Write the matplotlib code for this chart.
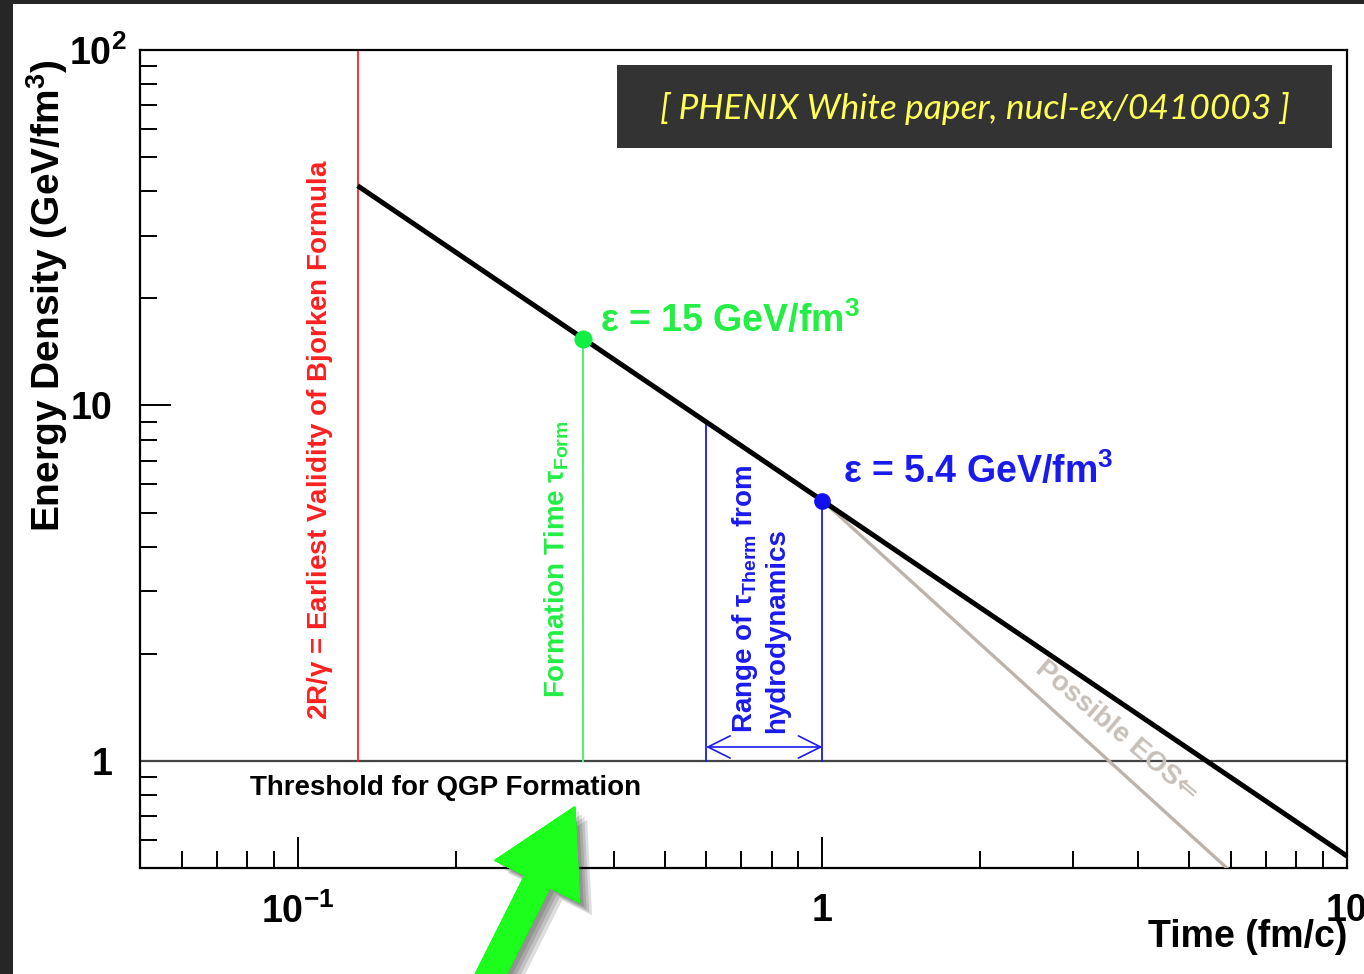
import matplotlib
matplotlib.use("Agg")
import matplotlib.pyplot as plt
import matplotlib.patheffects as pe
from matplotlib.patches import Rectangle
from matplotlib.ticker import LogLocator, NullFormatter
from matplotlib.transforms import ScaledTranslation

plt.rcParams["font.family"] = ["Liberation Sans", "DejaVu Sans"]
plt.rcParams["font.weight"] = "bold"
plt.rcParams["mathtext.fontset"] = "custom"
plt.rcParams["mathtext.rm"] = "Liberation Sans:bold"
plt.rcParams["mathtext.bf"] = "Liberation Sans:bold"
plt.rcParams["mathtext.it"] = "Liberation Sans"

# Bjorken energy density vs. proper time
bjorken_tau = [0.13, 10.0]
bjorken_eps = [41.5, 0.54]
# possible softer EOS from tau_therm = 1 fm/c
eos_tau = [1.0, 5.9]
eos_eps = [5.4, 0.50]

tau_crossing = 0.13          # 2R/gamma
tau_form = 0.35
eps_form = 15.4
tau_therm = [0.6, 1.0]
eps_therm_top = [9.0, 5.4]
eps_threshold = 1.0

x_ticks = [0.1, 1, 10]
x_ticklabels = [r"$\mathrm{10^{-1}}$", "1", "10"]
y_ticks = [1, 10, 100]
y_ticklabels = ["1", "10", r"$\mathrm{10^{2}}$"]

red = "#ff2020"
green_txt = "#22ee44"
green_ln = "#55ee77"
blue = "#1a1aee"
grey = "#bcb4ac"

fig = plt.figure(figsize=(13.64, 9.74), dpi=100, facecolor="#262626")
fig.add_artist(Rectangle((13 / 1364, 0), 1, 970 / 974, transform=fig.transFigure,
                         facecolor="white", edgecolor="none", zorder=-1))
ax = fig.add_axes([140 / 1364, 106 / 974, 1207 / 1364, 818 / 974])

ax.set_xscale("log")
ax.set_yscale("log")
ax.set_xlim(0.05, 10)
ax.set_ylim(0.5, 100)

# curves
ax.plot(bjorken_tau, bjorken_eps, color="black", lw=3.6, solid_capstyle="butt", zorder=4)
ax.plot(eos_tau, eos_eps, color=grey, lw=2.4, zorder=3)
ax.axhline(eps_threshold, color="#444444", lw=1.6, zorder=2)

# vertical markers
ax.plot([tau_crossing, tau_crossing], [eps_threshold, 100], color=red, lw=1.3)
ax.plot([tau_form, tau_form], [eps_threshold, eps_form], color=green_ln, lw=1.5)
for t, e in zip(tau_therm, eps_therm_top):
    ax.plot([t, t], [eps_threshold, e], color=blue, lw=1.3)
ax.annotate("", xy=(tau_therm[1], 1.095), xytext=(tau_therm[0], 1.095),
            arrowprops=dict(arrowstyle="<->,head_length=0.8,head_width=0.4",
                            color=blue, lw=1.2, mutation_scale=20,
                            shrinkA=0, shrinkB=0))

ax.plot([tau_form], [eps_form], "o", color="#11ee44", ms=12, zorder=5)
ax.plot([tau_therm[1]], [eps_therm_top[1]], "o", color="#1111ee", ms=11, zorder=5)

# annotations
ax.text(0.376, 17.3, r"$\varepsilon$ = 15 GeV/fm$^3$", color=green_txt,
        fontsize=27, ha="left", va="center")
ax.text(1.092, 6.5, r"$\varepsilon$ = 5.4 GeV/fm$^3$", color=blue,
        fontsize=27, ha="left", va="center")
ax.text(0.110, 1.305, r"2R/$\gamma$ = Earliest Validity of Bjorken Formula",
        color=red, fontsize=20, rotation=90, ha="center", va="bottom")
ax.text(0.311, 1.505, r"Formation Time $\tau_{\rm Form}$", color=green_txt,
        fontsize=20, rotation=90, ha="center", va="bottom")
ax.text(0.759, 1.2, "Range of $\\tau_{\\rm Therm}$ from\nhydrodynamics", color=blue,
        fontsize=20, rotation=90, ha="center", va="bottom", multialignment="left")
ax.text(3.63, 1.215, "Possible EOS\u21d0", color="#c8c0b8", fontsize=20,
        rotation=-40, ha="center", va="center", rotation_mode="anchor")
ax.text(0.081, 0.84, "Threshold for QGP Formation", color="black", fontsize=20,
        ha="left", va="center")

# reference box
ax.add_patch(Rectangle((0.3952, 0.8802), 0.5924, 0.1015, transform=ax.transAxes,
                       facecolor="#333333", edgecolor="none", zorder=6))
ax.text(0.6914, 0.928, "[ PHENIX White paper, nucl-ex/0410003 ]", transform=ax.transAxes,
        color="#ffff55", fontsize=25.5, fontstyle="italic", fontweight="normal",
        family="Lato", ha="center", va="center", zorder=7)

# big hand-drawn green arrow with soft shadow
shadow = [pe.withSimplePatchShadow(offset=(k, -k), shadow_rgbFace="black", alpha=0.13)
          for k in (9, 7, 5, 3)]
ax.annotate("", xy=(0.337, 0.742), xycoords="data", xytext=(486, -10),
            textcoords="figure pixels", annotation_clip=False,
            arrowprops=dict(arrowstyle="simple,head_length=6.0,head_width=6.8,tail_width=2.0",
                            mutation_scale=10, facecolor="#1cff1c", edgecolor="#1cff1c",
                            shrinkA=0, shrinkB=0,
                            path_effects=shadow + [pe.Normal()]),
            zorder=8)

# axes styling
ax.set_xticks(x_ticks, labels=x_ticklabels)
ax.set_yticks(y_ticks, labels=y_ticklabels)
ax.xaxis.set_minor_locator(LogLocator(base=10, subs=range(2, 10)))
ax.yaxis.set_minor_locator(LogLocator(base=10, subs=range(2, 10)))
ax.xaxis.set_minor_formatter(NullFormatter())
ax.yaxis.set_minor_formatter(NullFormatter())
ax.tick_params(which="both", direction="in", top=False, right=False, width=1.4, colors="black")
ax.tick_params(which="major", length=22, labelsize=27)
ax.tick_params(which="minor", length=12)
ax.tick_params(axis="x", which="major", pad=18)
ax.tick_params(axis="y", which="major", pad=20)
for s in ax.spines.values():
    s.set_linewidth(1.6)

# ROOT-style: the exponent of 10^2 hangs past the other labels
top_tick = ax.yaxis.get_major_ticks()[2]
top_tick.label1.set_transform(top_tick.label1.get_transform()
                              + ScaledTranslation(0.14, 0, fig.dpi_scale_trans))

ax.set_xlabel("Time (fm/c)", fontsize=27, fontweight="bold", loc="right")
ax.xaxis.set_label_coords(1.0, -0.062)
ax.set_ylabel("Energy Density (GeV/fm$^3$)", fontsize=28, fontweight="bold", loc="top")
ax.yaxis.set_label_coords(-0.058, 0.988)

fig.savefig("out.png", dpi=100, facecolor=fig.get_facecolor())
